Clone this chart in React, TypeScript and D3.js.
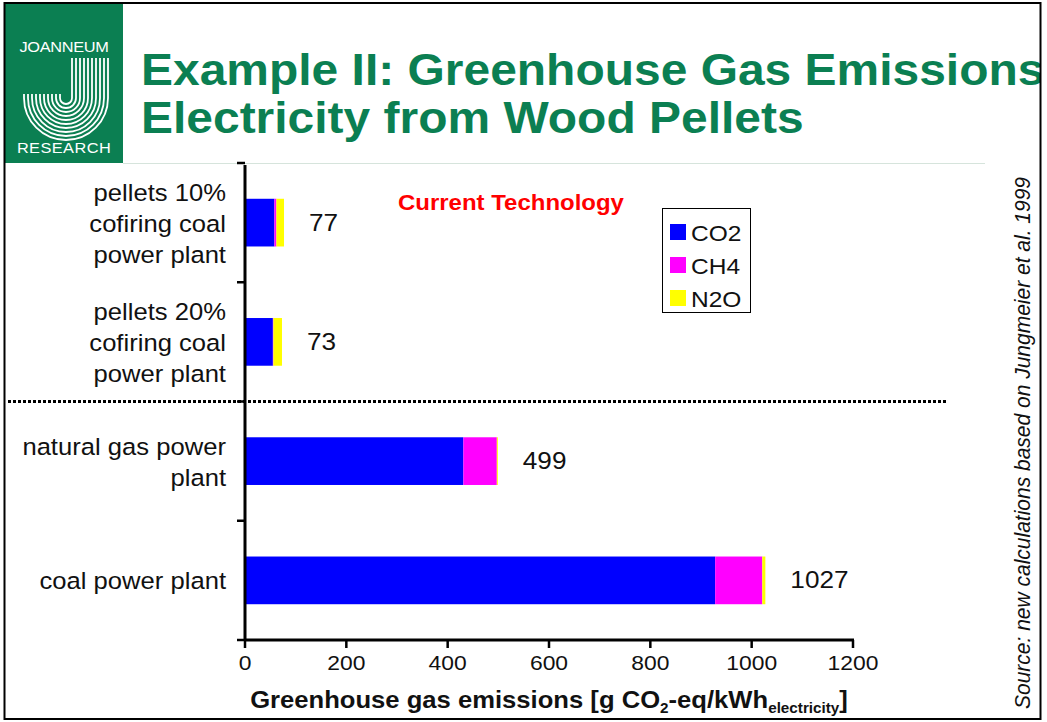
import React from "react";
import * as d3 from "d3";

// categories, top to bottom
const categories = [
  ["pellets 10%", "cofiring coal", "power plant"],
  ["pellets 20%", "cofiring coal", "power plant"],
  ["natural gas power", "plant"],
  ["coal power plant"],
];
const gases = ["CO2", "CH4", "N2O"];
const co2 = [58, 55, 431, 928];
const ch4 = [4, 1, 66, 93];
const n2o = [15, 17, 2, 6];
const totals = [77, 73, 499, 1027];
const xTicks = [0, 200, 400, 600, 800, 1000, 1200];

const colors: Record<string, string> = { CO2: "#0000ff", CH4: "#ff00ff", N2O: "#ffff00" };
const green = "#0b7f52";
const font = "'Liberation Sans', Arial, sans-serif";
const SX = 1.09; // slide is slightly stretched horizontally

// text with horizontal stretch
function T({ x, y, sx = SX, children, ...rest }: any) {
  return (
    <text transform={`translate(${x},${y}) scale(${sx},1)`} {...rest}>
      {children}
    </text>
  );
}

export default function App() {
  const W = 1047;
  const H = 722;
  const x = d3.scaleLinear().domain([0, 1200]).range([245, 853]);
  const y = d3.scaleBand<number>().domain([0, 1, 2, 3]).range([163, 640]).paddingInner(0.6).paddingOuter(0.3);
  const band = (640 - 163) / 4;

  const rows = categories.map((_, i) => ({ CO2: co2[i], CH4: ch4[i], N2O: n2o[i], i }));
  const stack = d3.stack<any>().keys(gases)(rows);

  // logo stripes
  const cx = 66, cy = 98;
  const radii = d3.range(6, 44, 4);

  return (
    <svg width={W} height={H} style={{ position: "absolute", left: 0, top: 0, fontFamily: font }}>
      <rect x={0} y={0} width={W} height={H} fill="#fff" />
      {/* logo */}
      <rect x={5} y={4} width={118} height={159} fill={green} />
      <T x={64} y={52} fill="#fff" fontSize={15} textAnchor="middle" letterSpacing={-0.3}>JOANNEUM</T>
      {radii.map((r) => (
        <path key={r}
          d={`M${cx + r},58 L${cx + r},${cy} A${r},${r} 0 0 1 ${cx - r},${cy} L${cx - r},${cy - 4}`}
          fill="none" stroke="#fff" strokeWidth={1.8} />
      ))}
      <T x={64} y={153} fill="#fff" fontSize={15} textAnchor="middle" letterSpacing={0.4}>RESEARCH</T>

      {/* title */}
      <g fill={green} fontWeight="bold" fontSize={44}>
        <T x={141} y={85}>Example II: Greenhouse Gas Emissions</T>
        <T x={141} y={133}>Electricity from Wood Pellets</T>
      </g>
      <line x1={123} x2={985} y1={163.5} y2={163.5} stroke="#d6e4dc" strokeWidth={1} />

      {/* frame */}
      <rect x={1040} y={0} width={7} height={H} fill="#fff" />
      <rect x={4.5} y={3} width={1036} height={716} fill="none" stroke="#000" strokeWidth={2} />

      {/* bars */}
      {stack.map((s) => (
        <g key={s.key} fill={colors[s.key]}>
          {s.map((d, i) => (
            <rect key={i} x={x(d[0])} y={y(i)} width={Math.max(0, x(d[1]) - x(d[0]))} height={y.bandwidth()} />
          ))}
        </g>
      ))}
      {totals.map((t, i) => (
        <T key={i} x={x(t) + 25} y={y(i)! + y.bandwidth() / 2 + 8} fontSize={24} fill="#111">{t}</T>
      ))}

      {/* category labels */}
      {categories.map((lines, i) => {
        const c = y(i)! + y.bandwidth() / 2;
        const lh = 31;
        const start = c - ((lines.length - 1) * lh) / 2;
        return lines.map((l, j) => (
          <T key={`${i}-${j}`} x={226} y={start + j * lh + 9} textAnchor="end" fontSize={23.5} fill="#111">{l}</T>
        ));
      })}

      {/* y axis */}
      <line x1={245} x2={245} y1={165} y2={641} stroke="#000" strokeWidth={3} />
      {d3.range(0, 5).map((k) => (
        <line key={k} x1={237} x2={245} y1={163 + k * band} y2={163 + k * band} stroke="#000" strokeWidth={2.5} />
      ))}
      {/* x axis */}
      <line x1={244} x2={854} y1={640} y2={640} stroke="#000" strokeWidth={3} />
      {xTicks.map((t) => (
        <g key={t}>
          <line x1={x(t)} x2={x(t)} y1={640} y2={648} stroke="#000" strokeWidth={2.5} />
          <T x={x(t)} y={670} fontSize={21} textAnchor="middle" fill="#111">{t}</T>
        </g>
      ))}
      <T x={549} y={708} textAnchor="middle" fontSize={23.5} fontWeight="bold" fill="#111">
        Greenhouse gas emissions [g CO<tspan fontSize={14} dy={5}>2</tspan>
        <tspan dy={-5}>-eq/kWh</tspan><tspan fontSize={14} dy={5}>electricity</tspan>
        <tspan dy={-5}>]</tspan>
      </T>

      {/* divider */}
      <line x1={8} x2={946} y1={401.5} y2={401.5} stroke="#000" strokeWidth={3} strokeDasharray="3,2" />

      <T x={398} y={210} fontSize={22} fontWeight="bold" fill="#ff0000">Current Technology</T>

      {/* legend */}
      <rect x={662.5} y={208.5} width={88} height={104} fill="#fff" stroke="#000" strokeWidth={1} />
      {gases.map((g, i) => (
        <g key={g}>
          <rect x={670} y={224 + i * 33} width={16} height={16} fill={colors[g]} />
          <T x={691} y={241 + i * 33} fontSize={22.5} fill="#111">{g}</T>
        </g>
      ))}

      {/* source */}
      <text transform={`translate(1030,443) scale(${SX},1) rotate(-90)`} textAnchor="middle" fontSize={21} fontStyle="italic" fill="#111">
        Source: new calculations based on Jungmeier et al. 1999
      </text>
    </svg>
  );
}
